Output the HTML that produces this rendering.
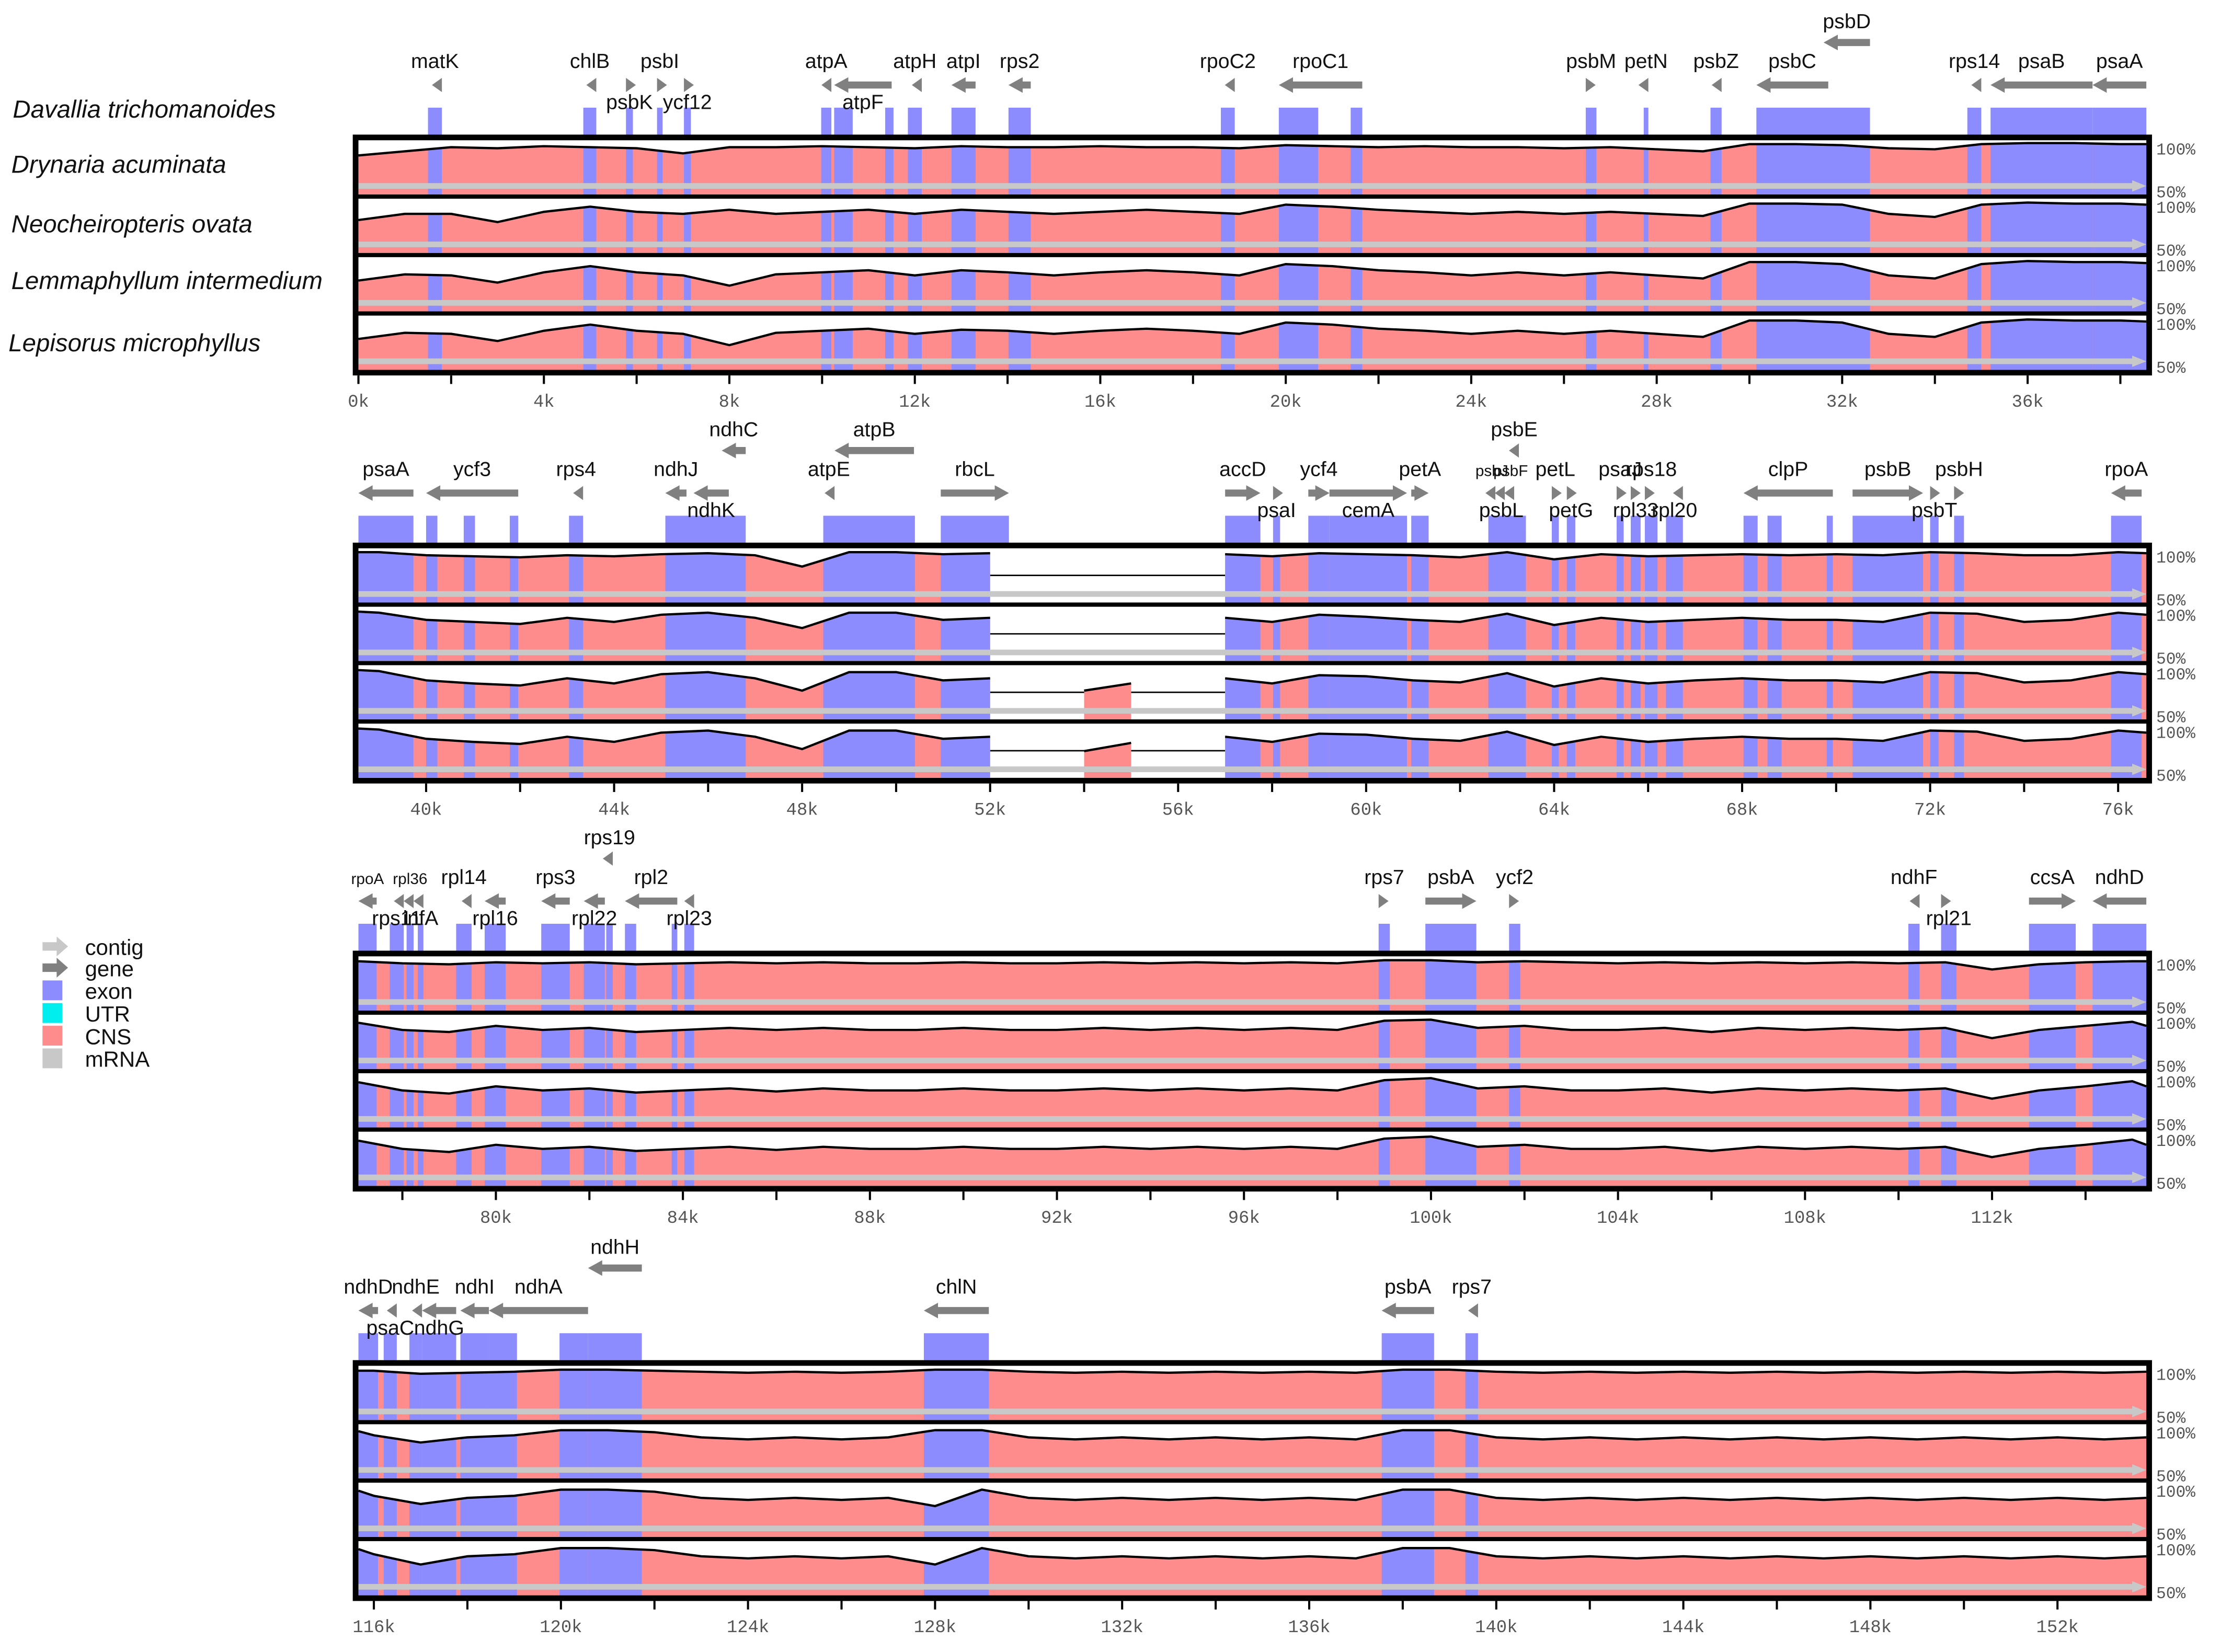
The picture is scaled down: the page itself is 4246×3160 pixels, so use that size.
<!DOCTYPE html>
<html><head><meta charset="utf-8">
<style>
html,body{margin:0;padding:0;background:#fff;}
svg{display:block;}
.gl{font-family:"Liberation Sans",sans-serif;font-size:14.5px;fill:#111;text-anchor:middle;}
.ax{font-family:"Liberation Mono","DejaVu Sans Mono",monospace;font-size:12.5px;fill:#555;text-anchor:middle;}
.pc{font-family:"Liberation Mono","DejaVu Sans Mono",monospace;font-size:11.5px;fill:#555;}
.sp{font-family:"Liberation Sans",sans-serif;font-size:17.5px;font-style:italic;fill:#111;}
.lg{font-family:"Liberation Sans",sans-serif;font-size:15.5px;fill:#111;}
</style></head>
<body>
<svg id="chart" width="4246" height="3160" viewBox="0 0 1567 1166" preserveAspectRatio="none" xmlns="http://www.w3.org/2000/svg">
<g id="labels">
<text class="sp" x="9" y="83">Davallia trichomanoides</text>
<text class="sp" x="8" y="122">Drynaria acuminata</text>
<text class="sp" x="8" y="164">Neocheiropteris ovata</text>
<text class="sp" x="8" y="204">Lemmaphyllum intermedium</text>
<text class="sp" x="6" y="248">Lepisorus microphyllus</text>
</g>
<g id="legend">
<g><polygon points="30,665 40,665 40,661 48,668 40,675 40,671 30,671" fill="#c8c8c8"/><text class="lg" x="60" y="674">contig</text></g>
<g><polygon points="30,680 40,680 40,676 48,683 40,690 40,686 30,686" fill="#808080"/><text class="lg" x="60" y="689">gene</text></g>
<g><rect x="30" y="692" width="14" height="14" fill="#8c8cff"/><text class="lg" x="60" y="705">exon</text></g>
<g><rect x="30" y="708" width="14" height="14" fill="#00eeee"/><text class="lg" x="60" y="721">UTR</text></g>
<g><rect x="30" y="724" width="14" height="14" fill="#ff8c8c"/><text class="lg" x="60" y="737">CNS</text></g>
<g><rect x="30" y="740" width="14" height="14" fill="#c8c8c8"/><text class="lg" x="60" y="753">mRNA</text></g>
</g>
</svg>
<script>
// identity (%) per kb, index = kb position 0..154 ; null = no alignment
const s1 = [88,92,96,95,97,96,95,90,96,96, 97,96,95,97,96,96,97,96,96,95, 98,97,96,97,96,96,95,96,94,92, 99,99,98,95,94,99,100,100,99,99,
 96,95,94,96,95,97,98,96,85,99, 99,97,98,null,null,null,null,97,95,98, 97,96,94,99,92,97,95,96,97,96, 97,96,99,98,96,96,99,98,96,95,
 97,96,97,95,96,97,96,97,96,96, 97,96,96,97,96,97,96,97,96,99, 99,97,98,97,96,97,96,97,96,97, 96,97,90,95,97,98,98,95,96,97,
 99,99,98,97,96,97,96,97,99,99, 97,96,97,96,97,96,97,96,99,99, 97,96,97,96,97,96,97,96,97,96, 97,96,97,96,97];
const s2 = [82,88,88,80,90,95,90,88,92,88, 90,92,88,92,90,88,90,92,90,88, 97,95,92,90,88,90,88,90,88,86, 98,98,97,88,85,97,99,98,98,97,
 90,88,86,92,88,95,97,92,82,97, 97,90,92,null,null,null,null,92,88,95, 93,90,88,96,85,92,88,90,92,90, 90,88,97,96,88,90,97,95,88,86,
 92,88,90,86,88,90,88,90,88,88, 90,88,88,90,88,90,88,90,88,97, 98,90,92,88,88,90,86,90,88,90, 88,90,80,88,92,96,92,85,90,92,
 97,97,95,90,88,90,88,90,97,97, 90,88,90,88,90,88,90,88,97,97, 90,88,90,88,90,88,90,88,90,88, 90,88,90,88,90];
const s3 = [80,86,85,78,88,94,88,85,75,86, 88,90,85,90,88,85,88,90,88,85, 96,94,90,88,85,88,85,88,85,82, 98,98,96,85,82,96,99,98,98,97,
 88,85,83,90,85,94,96,90,78,96, 96,88,90,null,78,85,null,90,85,93, 92,88,86,95,82,90,85,88,90,88, 88,86,96,95,86,88,96,94,86,83,
 90,86,88,84,86,88,85,88,86,86, 88,86,86,88,86,88,86,88,86,96, 98,88,90,86,86,88,84,88,86,88, 86,88,78,86,90,95,90,82,88,90,
 96,96,94,88,86,88,86,88,80,96, 88,86,88,86,88,86,88,86,96,96, 88,86,88,86,88,86,88,86,88,86, 88,86,88,86,88];
const s4 = [80,86,85,78,88,94,88,85,74,86, 88,90,85,89,88,85,88,90,88,85, 96,94,90,88,85,88,85,88,85,82, 98,98,96,85,82,96,99,98,98,97,
 88,85,83,90,85,94,96,90,78,96, 96,88,90,null,76,84,null,90,85,93, 92,88,86,95,82,90,85,88,90,88, 88,86,96,95,86,88,96,94,86,83,
 90,86,88,84,86,88,85,88,86,86, 88,86,86,88,86,88,86,88,86,96, 98,88,90,86,86,88,84,88,86,88, 86,88,78,86,90,95,90,80,88,90,
 96,96,94,88,86,88,86,88,80,96, 88,86,88,86,88,86,88,86,96,96, 88,86,88,86,88,86,88,86,88,86, 88,86,88,86,88];
const seriesNames = ['drynaria','neocheiropteris','lemmaphyllum','lepisorus'];
const panelStarts = [0, 38.56, 77.06, 115.67];
const panelEnds = [38.56, 76.6, 115.3, 153.9];
const panelTops = [95, 383, 671, 960];
// genes: [name, startKb, endKb, strand, labelRow, exons]
const genes1 = [['matK',1.5,1.8,-1,0],['chlB',4.85,5.13,-1,0],['psbK',5.77,5.92,1,1],['psbI',6.44,6.56,1,0],['ycf12',7.02,7.17,1,1],
 ['atpA',9.98,10.2,-1,0],['atpF',10.26,11.5,-1,1,[[10.26,10.66],[11.36,11.54]]],['atpH',11.85,12.15,-1,0],['atpI',12.79,13.31,-1,0],['rps2',14.02,14.5,-1,0],
 ['rpoC2',18.6,18.9,-1,0],['rpoC1',19.85,21.65,-1,0,[[19.85,20.7],[21.4,21.65]]],['psbM',26.47,26.7,1,0],['petN',27.72,27.82,-1,0],['psbZ',29.16,29.4,-1,0],
 ['psbC',30.15,31.7,-1,0,[[30.15,32.6]]],['psbD',31.6,32.6,-1,2,[]],['rps14',34.7,35.0,-1,0],['psaB',35.2,37.4,-1,0],['psaA',37.4,38.56,-1,0]];
const genes2 = [['psaA',38.56,39.73,-1,0],['ycf3',40.0,41.96,-1,0,[[40.0,40.24],[40.8,41.04],[41.78,41.96]]],['rps4',43.04,43.34,-1,0],
 ['ndhJ',45.09,45.54,-1,0,[[45.09,46.8]]],['ndhK',45.69,46.44,-1,1,[]],['ndhC',46.29,46.8,-1,2,[]],['atpE',48.45,48.69,-1,0,[[48.45,50.4]]],['atpB',48.69,50.38,-1,2,[]],
 ['rbcL',50.95,52.4,1,0],['accD',57.0,57.75,1,0],['psaI',58.02,58.17,1,1],['ycf4',58.77,59.22,1,0],['cemA',59.22,60.87,1,1],['petA',60.96,61.33,1,0],
 ['psbJ',62.6,62.75,-1,0,[[62.6,63.4]]],['psbL',62.8,62.95,-1,1,[]],['psbF',63.0,63.15,-1,0,[]],['psbE',63.05,63.25,-1,2,[]],
 ['petL',63.95,64.1,1,0],['petG',64.27,64.45,1,1],['psaJ',65.33,65.48,1,0],['rpl33',65.63,65.84,1,1],['rps18',65.93,66.2,1,0],['rpl20',66.38,66.74,-1,1],
 ['clpP',68.03,69.93,-1,0,[[68.03,68.33],[68.54,68.84],[69.8,69.93]]],['psbB',70.35,71.85,1,0],['psbT',72.0,72.18,1,1],['psbH',72.51,72.72,1,0],['rpoA',75.85,76.5,-1,0]];
const genes3 = [['rpoA',77.06,77.45,-1,0],['rps11',77.73,78.03,-1,1],['rpl36',78.09,78.24,-1,0],['infA',78.33,78.45,-1,1],['rpl14',79.15,79.48,-1,0],
 ['rpl16',79.76,80.21,-1,1],['rps3',80.97,81.58,-1,0],['rpl22',81.88,82.33,-1,1],['rps19',82.36,82.5,-1,2],['rpl2',82.76,83.88,-1,0,[[82.76,83.0],[83.76,83.88]]],
 ['rpl23',84.03,84.24,-1,1],['rps7',98.88,99.12,1,0],['psbA',99.88,100.97,1,0],['ycf2',101.67,101.91,1,0],['ndhF',110.21,110.45,-1,0],['rpl21',110.91,111.24,1,1],
 ['ccsA',112.79,113.79,1,0],['ndhD',114.15,115.3,-1,0]];
const genes4 = [['ndhD',115.67,116.09,-1,0],['psaC',116.21,116.49,-1,1],['ndhE',116.76,117.03,-1,0],['ndhG',117.03,117.76,-1,1],['ndhI',117.85,118.46,-1,0],
 ['ndhA',118.46,120.58,-1,0,[[118.46,119.06],[119.97,120.58]]],['ndhH',120.58,121.73,-1,2],['chlN',127.76,129.15,-1,0],['psbA',137.55,138.67,-1,0],['rps7',139.34,139.61,-1,0]];
const geneSets = [genes1, genes2, genes3, genes4];
const series = [s1, s2, s3, s4];

const NS = 'http://www.w3.org/2000/svg';
const svg = document.getElementById('chart');
function mk(tag, attrs, parent){ const e=document.createElementNS(NS,tag); for(const k in attrs) e.setAttribute(k,attrs[k]); (parent||svg).appendChild(e); return e; }
const X0 = 253, X1 = 1515;

geneSets.forEach((genes, p) => {
  const st = panelStarts[p], en = panelEnds[p], T = panelTops[p];
  const xs = kb => X0 + (kb - st) / (en - st) * (X1 - X0);
  const g = mk('g', {});
  
  
  const exons = [];
  genes.forEach(gn => { const ex = gn[5] || [[gn[1], gn[2]]]; ex.forEach(e => exons.push(e)); });
  exons.forEach(e => {
    const r = mk('rect', {x: xs(e[0]), y: T-19, width: Math.max(2, xs(e[1])-xs(e[0])), height: 19, fill: '#8c8cff'}, g);
    
    
  });
  genes.forEach(gn => {
    const [name, a, b, strand, row] = gn;
    const xa = xs(a), xb = xs(b), ay = row === 2 ? T-65 : T-35;
    const len = xb - xa;
    let pts;
    if (len < 12) {
      pts = strand > 0 ? [[xa,ay-5],[xa+7,ay],[xa,ay+5]] : [[xb,ay-5],[xb-7,ay],[xb,ay+5]];
    } else if (strand > 0) {
      pts = [[xa,ay-2.5],[xb-10,ay-2.5],[xb-10,ay-5.5],[xb,ay],[xb-10,ay+5.5],[xb-10,ay+2.5],[xa,ay+2.5]];
    } else {
      pts = [[xb,ay-2.5],[xa+10,ay-2.5],[xa+10,ay-5.5],[xa,ay],[xa+10,ay+5.5],[xa+10,ay+2.5],[xb,ay+2.5]];
    }
    const ar = mk('polygon', {points: pts.map(q=>q.join(',')).join(' '), fill: '#808080'}, g);
    
    
    const ly = row === 0 ? T-47 : row === 1 ? T-18 : T-75;
    const small = (name === 'psbJ' || name === 'psbF' || name === 'rpoA' && p===2 || name==='rpl36');
    const t = mk('text', {x: (xa+xb)/2, y: ly, class: 'gl'}, g);
    if (small) t.setAttribute('style', 'font-size:11px');
    t.textContent = name;
    
    
  });
  const fr = mk('rect', {x: 249, y: T, width: 1270, height: 170, fill: '#000'}, g);
  
  
  const th = (162 - 9) / 4;
  series.forEach((vals, si) => {
    const ty = T + 4 + si * (th + 3), tb = ty + th;
    const yv = v => tb - (v - 50) / 50 * (th - 2);
    mk('rect', {x: X0, y: ty, width: X1-X0, height: th, fill: '#fff'}, g);
    const i0 = Math.max(0, Math.floor(st)), i1 = Math.min(vals.length-1, Math.ceil(en));
    const segs = []; let cur = [];
    for (let i = i0; i <= i1; i++) {
      if (vals[i] === null) { if (cur.length) segs.push(cur); cur = []; }
      else cur.push([Math.min(Math.max(xs(i), X0), X1), yv(vals[i])]);
    }
    if (cur.length) segs.push(cur);
    for (let k = 1; k < segs.length; k++) {
      const a = segs[k-1][segs[k-1].length-1], b = segs[k][0];
      const gl = mk('line', {x1: a[0], x2: b[0], y1: ty + th*0.5, y2: ty + th*0.5, stroke: '#000', 'stroke-width': 1}, g);
      
      
    }
    segs.forEach((sg, k) => {
      if (sg.length < 2) return;
      const id = 'c' + p + '_' + si + '_' + k;
      const cp = mk('clipPath', {id: id}, g);
      const d = 'M' + sg[0][0] + ',' + tb + ' ' + sg.map(q=>'L'+q[0]+','+q[1]).join(' ') + ' L' + sg[sg.length-1][0] + ',' + tb + 'Z';
      mk('path', {d: d}, cp);
      const fg = mk('g', {'clip-path': 'url(#' + id + ')'}, g);
      
      
      mk('rect', {x: X0, y: ty, width: X1-X0, height: th, fill: '#ff8c8c'}, fg);
      exons.forEach(e => mk('rect', {x: xs(e[0]), y: ty, width: Math.max(2, xs(e[1])-xs(e[0])), height: th, fill: '#8c8cff'}, fg));
      const ln = mk('polyline', {points: sg.map(q=>q.join(',')).join(' '), fill: 'none', stroke: '#000', 'stroke-width': 1.6}, g);
      
      
    });
    const cb = mk('polygon', {points: [[X0,tb-8],[X1-10,tb-8],[X1-10,tb-10],[X1,tb-6],[X1-10,tb-2],[X1-10,tb-4],[X0,tb-4]].map(q=>q.join(',')).join(' '), fill: '#c8c8c8'}, g);
    
    
    const t1 = mk('text', {x: 1522, y: ty + 10, class: 'pc'}, g); t1.textContent = '100%';
    
    
    const t2 = mk('text', {x: 1522, y: tb + 2, class: 'pc'}, g); t2.textContent = '50%';
    
    
  });
  for (let k = Math.ceil(st/2)*2; k <= en; k += 2) {
    const x = xs(k);
    const tk = mk('line', {x1: x, x2: x, y1: T+170, y2: T+176, stroke: '#000', 'stroke-width': 1.5}, g);
    
    
    if (k % 4 === 0) {
      const tl = mk('text', {x: x, y: T+192, class: 'ax'}, g);
      tl.textContent = k + 'k';
      
      
    }
  }
});
</script>
</body></html>
